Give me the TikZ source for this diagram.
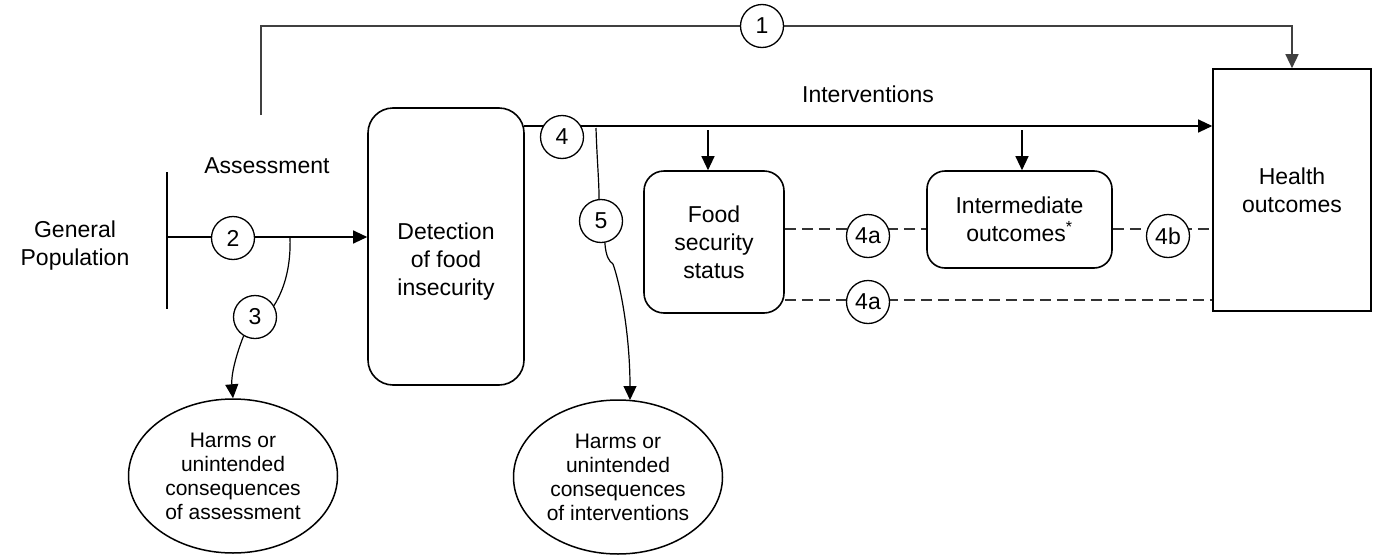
\documentclass[tikz,border=0pt]{standalone}
\usepackage{fontspec}
\setmainfont{Liberation Sans}
\usetikzlibrary{arrows.meta,shapes.geometric,backgrounds}
\begin{document}
\begin{tikzpicture}[x=1pt,y=-1pt,
  lbl/.style={align=center, inner sep=0pt, font=\fontsize{23}{28}\selectfont},
  box/.style={draw, line width=1.6pt, align=center, inner sep=0pt, font=\fontsize{23}{28}\selectfont},
  num/.style={circle, draw, line width=1.3pt, fill=white, minimum size=43pt, inner sep=0pt, font=\fontsize{23}{28}\selectfont},
  conn/.style={line width=1.2pt},
  arr/.style={conn, -{Triangle[length=14pt,width=13pt]}},
  dsh/.style={line width=1.2pt, dash pattern=on 11pt off 6pt, black!80},
  harm/.style={ellipse, draw, line width=1.5pt, minimum width=209pt, minimum height=154pt, align=center, inner sep=0pt, font=\fontsize{21}{24}\selectfont}]
\useasboundingbox (0,0) rectangle (1379,557);

% main boxes
\node[box, rounded corners=25pt, minimum width=156pt, minimum height=277pt] (det) at (446,246.5) {};
\node[lbl] (dettxt) at (446,262) {Detection\\of food\\insecurity};
\node[box, rounded corners=20pt, minimum width=140pt, minimum height=142pt] (food) at (714,242) {Food\\security\\status};
\node[box, rounded corners=18pt, minimum width=185pt, minimum height=97pt] (inter) at (1019.5,219.5) {Intermediate\\outcomes\textsuperscript{*}};
\node[box, minimum width=158pt, minimum height=242pt] (health) at (1292,190) {Health\\outcomes};

% ellipses
\node[harm] (h1) at (233,476) {Harms or\\unintended\\consequences\\of assessment};
\node[harm] (h2) at (618,477) {Harms or\\unintended\\consequences\\of interventions};

% plain labels
\node[lbl] (gen) at (75,246) {General\\Population};
\node[lbl] (ass) at (267,166) {Assessment};
\node[lbl] (intv) at (868,94) {Interventions};

% numbered circles
\node[num] (c1) at (762,26) {1};
\node[num] (c2) at (233,238) {2};
\node[num] (c3) at (255,317) {3};
\node[num] (c4) at (562,137) {4};
\node[num] (c5) at (601,221) {5};
\node[num] (c4a) at (868,236) {4a};
\node[num] (c4b) at (1168,236) {4b};
\node[num] (c4c) at (868,302) {4a};

% helper coordinates
\coordinate (t0) at (261,115);
\coordinate (v1) at (167,172);
\coordinate (v2) at (167,309);
\coordinate (gp) at (167,237);
\coordinate (b3) at (290,237);
\coordinate (iv) at (524,126);
\coordinate (b5) at (596,128);
\coordinate (k5) at (613,264);
\coordinate (a5) at (630,400);
\coordinate (fa) at (708,130);
\coordinate (ia) at (1022,130);

\begin{scope}[on background layer]
  % path 1
  \draw[arr, black!75, line width=1.4pt] (t0) |- (c1) -| (health.north);
  % population line
  \draw[conn] (v1) -- (v2);
  % path 2
  \draw[arr] (gp) -- (gp -| det.west);
  % path 3
  \draw[conn] (b3) .. controls (291,265) and (285,288) .. (c3.31);
  \draw[arr] (c3.239) .. controls (236,355) and (231,375) .. (h1.north);
  % interventions line
  \draw[arr] (iv) -- (iv -| health.west);
  % path 5
  \draw[conn] (b5) .. controls (597,160) and (599,180) .. (c5.95);
  \draw[conn] (c5.280) .. controls (606,257) and (609,261) .. (k5);
  \draw[arr] (k5) .. controls (622,290) and (630,340) .. (a5);
  % arrows into boxes
  \draw[arr] (fa) -- (fa |- food.north);
  \draw[arr] (ia) -- (ia |- inter.north);
  % dashed associations
  \draw[dsh] (food.east |- 0,229) -- (inter.west |- 0,229);
  \draw[dsh] (inter.east |- 0,229) -- (health.west |- 0,229);
  \draw[dsh] (food.east |- 0,300) -- (health.west |- 0,300);
\end{scope}
\end{tikzpicture}
\end{document}
